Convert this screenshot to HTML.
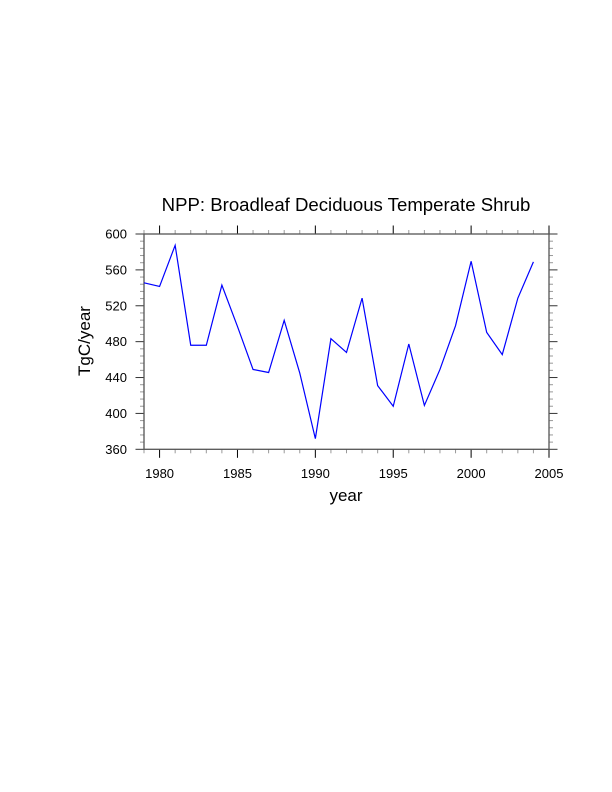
<!DOCTYPE html>
<html><head><meta charset="utf-8"><style>
body{margin:0;background:#fff;}
svg{display:block;font-family:"Liberation Sans",Arial,sans-serif;}
</style></head><body>
<svg id="chart" width="612" height="792" viewBox="0 0 612 792">
<text x="346" y="211" font-size="18.6" text-anchor="middle">NPP: Broadleaf Deciduous Temperate Shrub</text>
<text x="346" y="501" font-size="17" text-anchor="middle">year</text>
<text transform="translate(90,341) rotate(-90)" font-size="17" text-anchor="middle">TgC/year</text>
<g id="axes"></g>
<path id="line" fill="none" stroke="#0000ff" stroke-width="1.2"></path>
</svg>
<script>
const years = [1979,1980,1981,1982,1983,1984,1985,1986,1987,1988,1989,1990,1991,1992,1993,1994,1995,1996,1997,1998,1999,2000,2001,2002,2003,2004];
const npp = [545.6,541.5,587.4,476,476,543,497,449,445.6,503.7,445,371.9,483.3,468,528.5,431,408,477.4,408.9,449,497.8,569.6,490.4,465.6,528.5,568.9];
const xTicks = [1980,1985,1990,1995,2000,2005];
const yTicks = [360,400,440,480,520,560,600];
const X0=144,X1=549,Y0=234,Y1=449.3;
const xs=v=>X0+(v-1979)/(2005-1979)*(X1-X0);
const ys=v=>Y1-(v-360)/(600-360)*(Y1-Y0);
const NS="http://www.w3.org/2000/svg";
const g=document.getElementById('axes');
function ln(x1,y1,x2,y2,c,w,name){const l=document.createElementNS(NS,'line');l.setAttribute('x1',x1);l.setAttribute('y1',y1);l.setAttribute('x2',x2);l.setAttribute('y2',y2);l.setAttribute('stroke',c);l.setAttribute('stroke-width',w);


g.appendChild(l);}
function tx(x,y,s,a,name){const t=document.createElementNS(NS,'text');t.setAttribute('x',x);t.setAttribute('y',y);t.setAttribute('font-size','13');t.setAttribute('text-anchor',a);t.textContent=s;


g.appendChild(t);}
for(let y=1979;y<=2005;y++){const x=xs(y);const maj=y%5===0;const L=maj?8.5:4;const c=maj?'#000':'#999';
ln(x,Y1,x,Y1+L,c,1,'x-tick');ln(x,Y0,x,Y0-L,c,1,'x-tick-top');}
for(let v=360;v<=600;v+=8){const y=ys(v);const maj=(v-360)%40===0;const L=maj?8.5:4;const c=maj?'#333':'#999';
ln(X0,y,X0-L,y,c,1,'y-tick');ln(X1,y,X1+L,y,c,1,'y-tick-right');}
xTicks.forEach(v=>tx(xs(v),478,String(v),'middle','x-tick-label'));
yTicks.forEach(v=>tx(127,ys(v)+4.5,String(v),'end','y-tick-label'));
const r=document.createElementNS(NS,'rect');r.setAttribute('x',X0);r.setAttribute('y',Y0);r.setAttribute('width',X1-X0);r.setAttribute('height',Y1-Y0);r.setAttribute('fill','none');r.setAttribute('stroke','#555');r.setAttribute('stroke-width','1.3');


g.appendChild(r);
document.getElementById('line').setAttribute('d',years.map((y,i)=>(i?'L':'M')+xs(y).toFixed(2)+','+ys(npp[i]).toFixed(2)).join(''));
</script>
</body></html>
